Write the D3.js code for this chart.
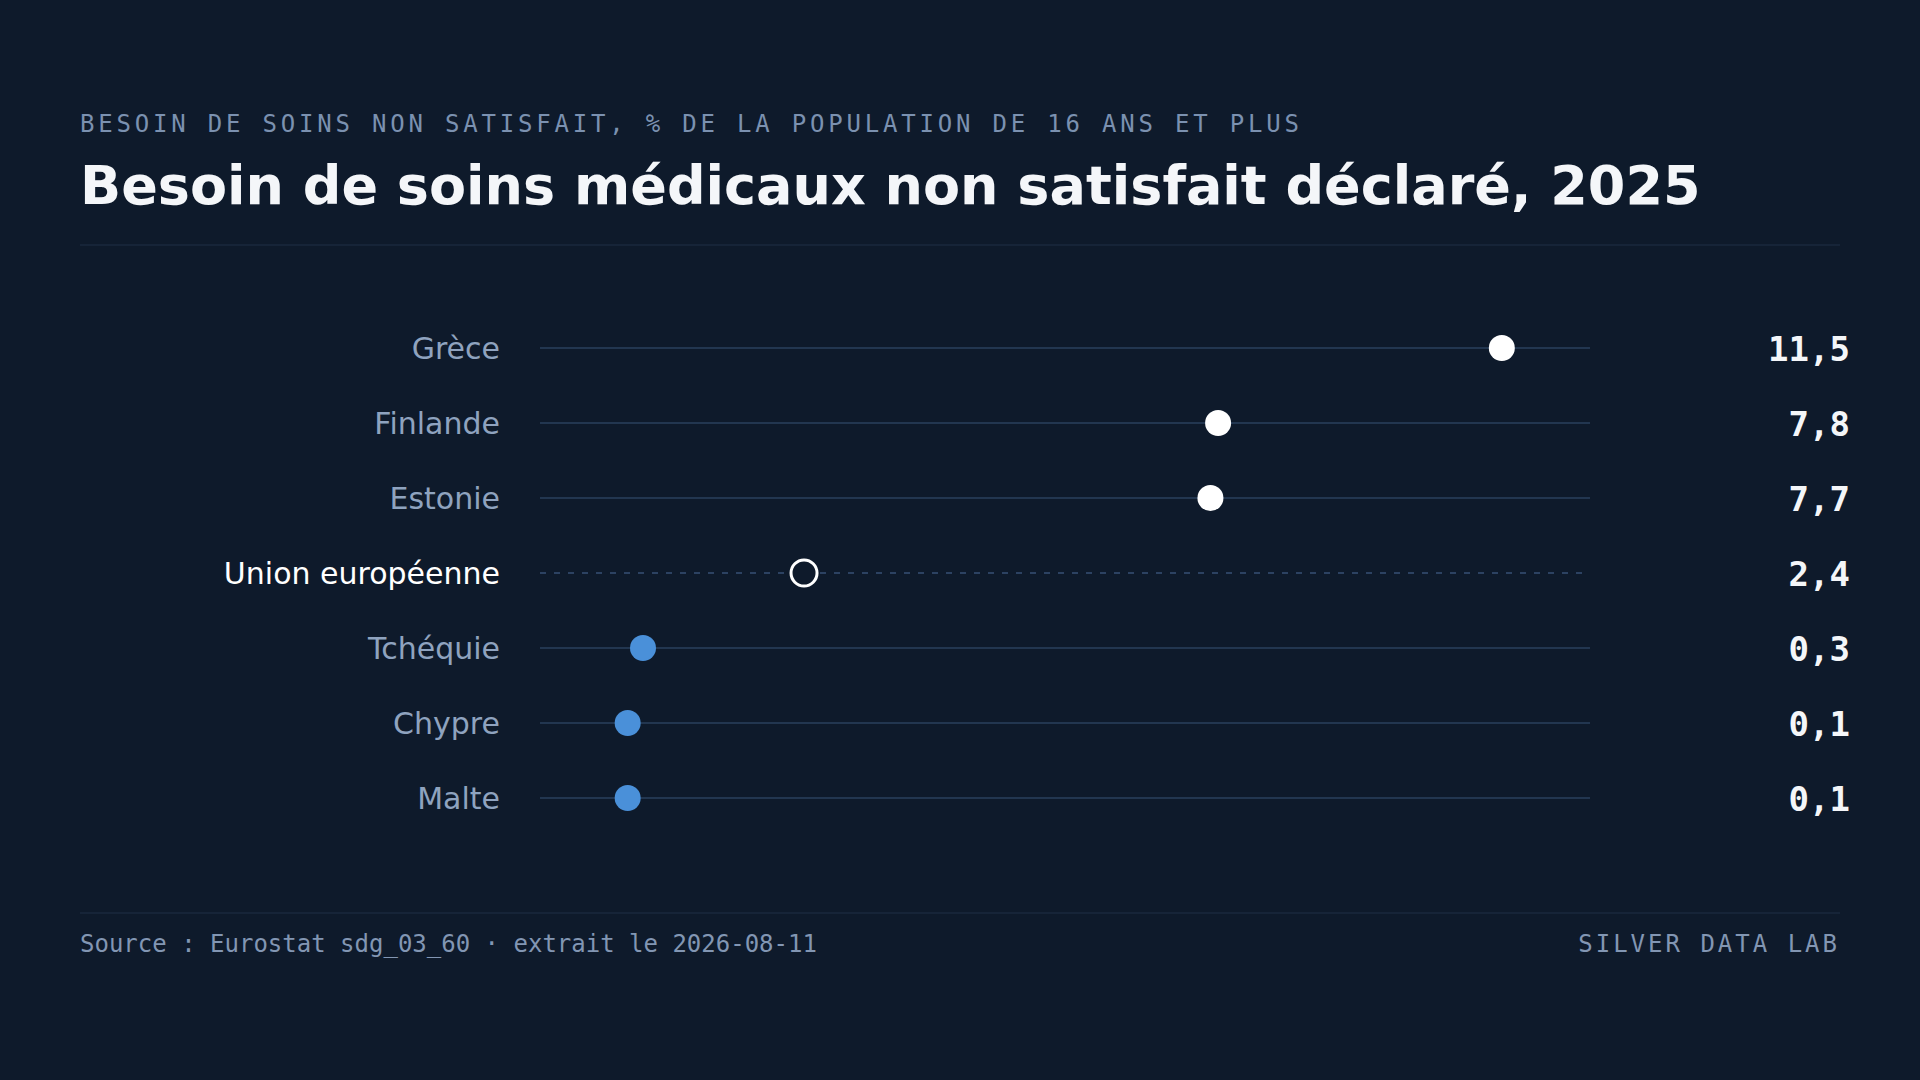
<!DOCTYPE html>
<html lang="fr">
<head>
	<meta charset="UTF-8">
	<title>Besoin de soins médicaux non satisfait</title>
	<style>
		*{margin:0;padding:0;}
		body{background:#0e1a2b;}
		#container{width:1920px;height:1080px;}
	</style>
</head>
<body>
	<div id="container"></div>
	<script src="https://cdn.jsdelivr.net/npm/d3@7"></script>
	<script>
		// données
		var countries = ['Grèce','Finlande','Estonie','Union européenne','Tchéquie','Chypre','Malte']
		var values = [11.5, 7.8, 7.7, 2.4, 0.3, 0.1, 0.1]
		var valueLabels = ['11,5','7,8','7,7','2,4','0,3','0,1','0,1']
		var reference = 'Union européenne'

		var W = 1920, H = 1080, left = 80, right = 1840
		var bg = '#0e1a2b'

		var svg = d3.select('#container').append('svg').attr('width', W).attr('height', H)
		svg.append('rect').attr('width', W).attr('height', H).attr('fill', bg)

		var mono = "'DejaVu Sans Mono', monospace"
		var sans = "'DejaVu Sans', sans-serif"

		svg.append('text')
			.attr('x', left).attr('y', 132)
			.text('BESOIN DE SOINS NON SATISFAIT, % DE LA POPULATION DE 16 ANS ET PLUS')
			.attr('font-family', mono).attr('font-size', 24)
			.attr('letter-spacing', 3.8)
			.attr('fill', '#7b91b0')

		svg.append('text')
			.attr('x', left).attr('y', 204)
			.text('Besoin de soins médicaux non satisfait déclaré, 2025')
			.attr('font-family', sans).attr('font-size', 54).attr('font-weight', 'bold')
			.attr('fill', '#f4f6f9')

		svg.append('line').attr('x1', left).attr('x2', right).attr('y1', 245).attr('y2', 245)
			.attr('stroke', '#1a293e').attr('stroke-width', 1.5)

		var data = countries.map(function(c, i){ return {name: c, value: values[i], label: valueLabels[i]} })
		var refValue = values[countries.indexOf(reference)]

		var scale_y = d3.scalePoint().domain(countries).range([348, 798])
		var scale_x = d3.scaleLinear().domain([0, d3.max(values) * 1.1]).range([620, 1590])

		var rows = svg.append('g').selectAll('g').data(data).enter().append('g')
			.attr('transform', function(d){ return `translate(0,${scale_y(d.name)})` })

		rows.append('line')
			.attr('x1', 540).attr('x2', 1590)
			.attr('stroke', function(d){ return d.name === reference ? '#2c4262' : '#223650' })
			.attr('stroke-width', 2)
			.attr('stroke-dasharray', function(d){ return d.name === reference ? '6 8' : null })

		rows.append('text')
			.attr('x', 500).attr('dy', '0.35em')
			.attr('text-anchor', 'end')
			.attr('font-family', sans).attr('font-size', 30)
			.attr('fill', function(d){ return d.name === reference ? '#ffffff' : '#8fa3bf' })
			.text(function(d){ return d.name })

		rows.append('circle')
			.attr('cx', function(d){ return scale_x(d.value) })
			.attr('r', 13)
			.attr('fill', function(d){
				if (d.name === reference) return bg
				return d.value > refValue ? '#ffffff' : '#4a90d9'
			})
			.attr('stroke', function(d){ return d.name === reference ? '#ffffff' : 'none' })
			.attr('stroke-width', 3)

		rows.append('text')
			.attr('x', 1850).attr('dy', '0.37em')
			.attr('text-anchor', 'end')
			.attr('font-family', mono).attr('font-size', 34).attr('font-weight', 'bold')
			.attr('fill', '#f4f6f9')
			.text(function(d){ return d.label })

		svg.append('line').attr('x1', left).attr('x2', right).attr('y1', 913).attr('y2', 913)
			.attr('stroke', '#1a293e').attr('stroke-width', 1.5)

		svg.append('text')
			.attr('x', left).attr('y', 952)
			.text('Source : Eurostat sdg_03_60 · extrait le 2026-08-11')
			.attr('font-family', mono).attr('font-size', 24)
			.attr('fill', '#8296b3')

		svg.append('text')
			.attr('x', right).attr('y', 952)
			.attr('text-anchor', 'end')
			.text('SILVER DATA LAB')
			.attr('font-family', mono).attr('font-size', 24)
			.attr('letter-spacing', 3)
			.attr('fill', '#8296b3')
	</script>
</body>
</html>
